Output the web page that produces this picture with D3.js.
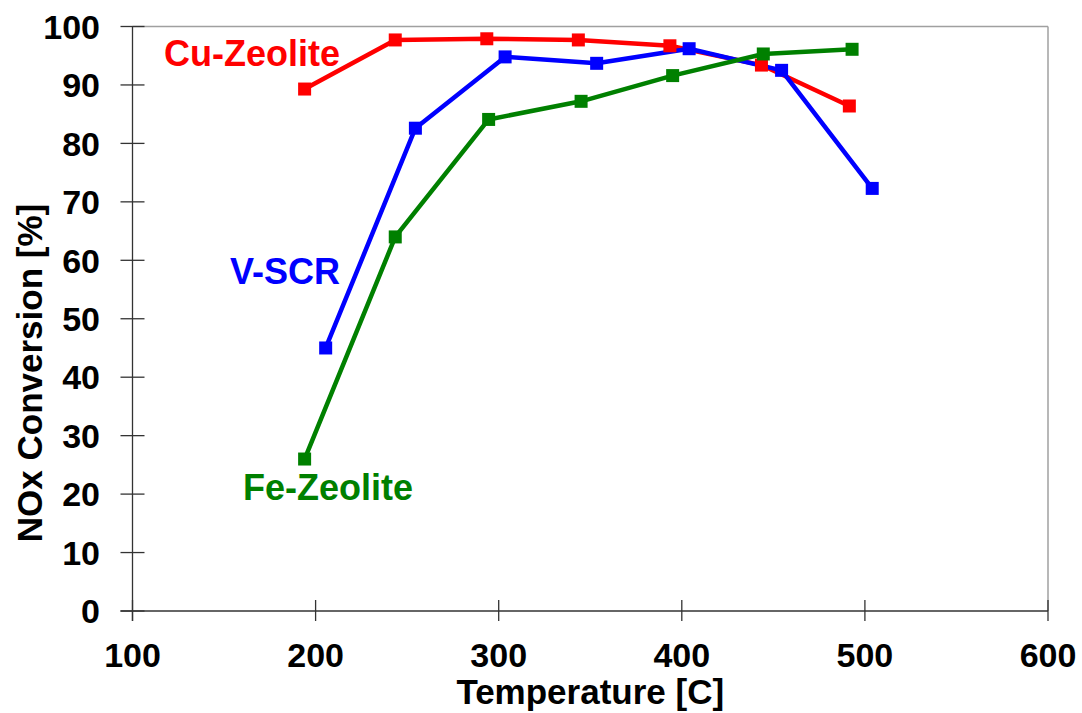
<!DOCTYPE html>
<html><head><meta charset="utf-8">
<script src="https://cdn.jsdelivr.net/npm/d3@7"></script>
<style>
body{margin:0;background:#fff;}
svg{display:block;font-family:"Liberation Sans",Arial,sans-serif;}
</style></head>
<body>
<svg id="chart" width="1082" height="713"></svg>
<script>
const xTicks = [100, 200, 300, 400, 500, 600];
const yTicks = [0, 10, 20, 30, 40, 50, 60, 70, 80, 90, 100];

const cuTemp = [194, 243.5, 293.5, 343.5, 393.5, 443.5, 491.5];
const cuConv = [89.3, 97.7, 97.9, 97.7, 96.7, 93.4, 86.4];

const vTemp = [205.5, 254.5, 303.5, 353.5, 404, 454.5, 504];
const vConv = [45.0, 82.6, 94.8, 93.7, 96.2, 92.5, 72.3];

const feTemp = [194, 243.5, 294.5, 345, 395, 444.5, 493];
const feConv = [26.0, 64.0, 84.1, 87.2, 91.6, 95.3, 96.1];

const seriesNames = ["Cu-Zeolite", "V-SCR", "Fe-Zeolite"];
const seriesColors = ["#ff0000", "#0000ff", "#008000"];

const svg = d3.select("#chart");
const x = d3.scaleLinear().domain([100, 600]).range([132.5, 1048]);
const y = d3.scaleLinear().domain([0, 100]).range([611, 26.5]);

// frame: top and right borders
svg.append("line").attr("x1", x(100)).attr("x2", x(600)).attr("y1", y(100)).attr("y2", y(100))
  .attr("stroke", "#a0a0a0").attr("stroke-width", 1.5);
svg.append("line").attr("x1", x(600)).attr("x2", x(600)).attr("y1", y(100)).attr("y2", y(0))
  .attr("stroke", "#a0a0a0").attr("stroke-width", 1.5);

// y axis
const yAxis = svg.append("g");
yAxis.append("line").attr("x1", x(100)).attr("x2", x(100)).attr("y1", y(100)).attr("y2", y(0) + 10)
  .attr("stroke", "#333").attr("stroke-width", 1.3);
yAxis.selectAll(".yt").data(yTicks).enter().append("line")
  .attr("x1", x(100) - 12).attr("x2", x(100) + 12)
  .attr("y1", d => y(d)).attr("y2", d => y(d))
  .attr("stroke", "#333").attr("stroke-width", 1.3);
yAxis.selectAll(".yl").data(yTicks).enter().append("text")
  .attr("x", 100).attr("y", d => y(d)).attr("dy", "0.36em")
  .attr("text-anchor", "end").attr("font-size", 34).attr("font-weight", "bold")
  .attr("fill", "#000").text(d => d);

// x axis
const xAxis = svg.append("g");
xAxis.append("line").attr("x1", x(100) - 12).attr("x2", x(600)).attr("y1", y(0)).attr("y2", y(0))
  .attr("stroke", "#333").attr("stroke-width", 1.3);
xAxis.selectAll(".xt").data(xTicks).enter().append("line")
  .attr("x1", d => x(d)).attr("x2", d => x(d))
  .attr("y1", y(0) - 11).attr("y2", y(0) + 10)
  .attr("stroke", "#333").attr("stroke-width", 1.3);
xAxis.selectAll(".xl").data(xTicks).enter().append("text")
  .attr("x", d => x(d)).attr("y", 667)
  .attr("text-anchor", "middle").attr("font-size", 34).attr("font-weight", "bold")
  .attr("fill", "#000").text(d => d);

// axis titles
svg.append("text").attr("x", x(350)).attr("y", 704)
  .attr("text-anchor", "middle").attr("font-size", 35).attr("font-weight", "bold")
  .attr("fill", "#000").text("Temperature [C]");
svg.append("text").attr("transform", `translate(42,${373}) rotate(-90)`)
  .attr("text-anchor", "middle").attr("font-size", 35).attr("font-weight", "bold")
  .attr("fill", "#000").text("NOx Conversion [%]");

// series
const series = [
  {temps: cuTemp, vals: cuConv},
  {temps: vTemp, vals: vConv},
  {temps: feTemp, vals: feConv}
];
const line = d3.line().x(d => x(d[0])).y(d => y(d[1]));
series.forEach((s, i) => {
  const pts = s.temps.map((t, j) => [t, s.vals[j]]);
  svg.append("path").datum(pts).attr("d", line)
    .attr("fill", "none").attr("stroke", seriesColors[i]).attr("stroke-width", 4.5)
    .attr("stroke-linejoin", "round");
});
series.forEach((s, i) => {
  const pts = s.temps.map((t, j) => [t, s.vals[j]]);
  svg.append("g").selectAll("rect").data(pts).enter().append("rect")
    .attr("x", d => x(d[0]) - 6.5).attr("y", d => y(d[1]) - 6.5)
    .attr("width", 13).attr("height", 13).attr("fill", seriesColors[i]);
});

// series labels
const labelPos = [[164, 66], [230, 284], [243, 500]];
seriesNames.forEach((n, i) => {
  svg.append("text").attr("x", labelPos[i][0]).attr("y", labelPos[i][1])
    .attr("font-size", 36).attr("font-weight", "bold").attr("fill", seriesColors[i]).text(n);
});
</script>
</body></html>
